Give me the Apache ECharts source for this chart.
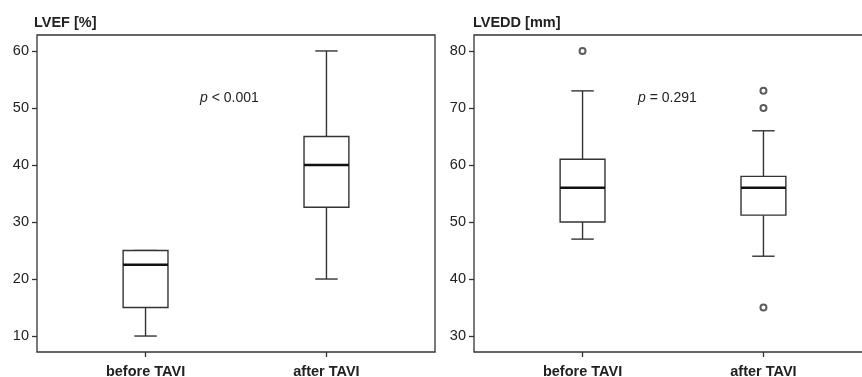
<!DOCTYPE html>
<html>
<head>
<meta charset="utf-8">
<script src="https://cdn.jsdelivr.net/npm/echarts@6/dist/echarts.min.js"></script>
<style>
  html, body { margin: 0; padding: 0; background: #fff; }
  #main { width: 862px; height: 377px; }
</style>
</head>
<body>
<div id="main"></div>
<script>
// groups on the x axis
var categories = ['before TAVI', 'after TAVI'];
var catPos = [1, 2];

// box stats: [low whisker, Q1, median, Q3, high whisker]
var lvefStats = [[10, 15, 22.5, 25, 25], [20, 32.6, 40, 45, 60]];
var lveddStats = [[47, 50, 56, 61, 73], [44, 51.2, 56, 58, 66]];

// outliers: [group position, value]
var lvefOutliers = [];
var lveddOutliers = [[1, 80], [2, 73], [2, 70], [2, 35]];

var lvefTicks = [10, 20, 30, 40, 50, 60];
var lveddTicks = [30, 40, 50, 60, 70, 80];

var ink = '#333';
var txt = '#222';

function withPos(stats) {
    return stats.map(function (s, i) { return [catPos[i]].concat(s); });
}

function renderBox(params, api) {
    var x = api.value(0);
    var lo = api.coord([x, api.value(1)]);
    var q1 = api.coord([x, api.value(2)]);
    var md = api.coord([x, api.value(3)]);
    var q3 = api.coord([x, api.value(4)]);
    var hi = api.coord([x, api.value(5)]);
    var half = api.size([1, 0])[0] * 0.124;
    var cap = half / 2;
    var st = { stroke: ink, lineWidth: 1.4, fill: null };
    return {
        type: 'group',
        children: [
            { type: 'line', shape: { x1: lo[0], y1: lo[1], x2: q1[0], y2: q1[1] }, style: st },
            { type: 'line', shape: { x1: q3[0], y1: q3[1], x2: hi[0], y2: hi[1] }, style: st },
            { type: 'line', shape: { x1: lo[0] - cap, y1: lo[1], x2: lo[0] + cap, y2: lo[1] }, style: st },
            { type: 'line', shape: { x1: hi[0] - cap, y1: hi[1], x2: hi[0] + cap, y2: hi[1] }, style: st },
            { type: 'rect', shape: { x: q1[0] - half, y: q3[1], width: half * 2, height: q1[1] - q3[1] },
              style: { stroke: ink, lineWidth: 1.4, fill: '#fff' } },
            { type: 'line', shape: { x1: md[0] - half, y1: md[1], x2: md[0] + half, y2: md[1] },
              style: { stroke: '#111', lineWidth: 2.6 } }
        ]
    };
}

function xAxisFor(idx) {
    return {
        type: 'value', gridIndex: idx, min: 0.4, max: 2.6,
        splitLine: { show: false },
        axisLine: { show: false },
        axisTick: { show: true, customValues: catPos, length: 5, lineStyle: { color: ink, width: 1.3 } },
        axisLabel: {
            customValues: catPos, margin: 12,
            color: txt, fontFamily: 'Liberation Sans', fontSize: 14.5, fontWeight: 'bold',
            formatter: function (v) { return categories[catPos.indexOf(v)]; }
        }
    };
}

function yAxisFor(idx, min, max, ticks) {
    return {
        type: 'value', gridIndex: idx, min: min, max: max,
        splitLine: { show: false },
        axisLine: { show: false },
        axisTick: { show: true, customValues: ticks, length: 5, lineStyle: { color: ink, width: 1.3 } },
        axisLabel: { customValues: ticks, margin: 8, color: txt, fontFamily: 'Liberation Sans', fontSize: 14.5 }
    };
}

var chart = echarts.init(document.getElementById('main'));

var option = {
    animation: false,
    backgroundColor: '#fff',
    title: [
        { text: 'LVEF [%]', left: 34, top: 15, padding: 0,
          textStyle: { fontFamily: 'Liberation Sans', fontSize: 14.5, fontWeight: 'bold', color: txt } },
        { text: 'LVEDD [mm]', left: 473, top: 15, padding: 0,
          textStyle: { fontFamily: 'Liberation Sans', fontSize: 14.5, fontWeight: 'bold', color: txt } }
    ],
    grid: [
        { left: 37, top: 35, width: 398, height: 317, show: true, borderColor: ink, borderWidth: 1.3,
          outerBoundsMode: 'none' },
        { left: 474, top: 35, width: 398, height: 317, show: true, borderColor: ink, borderWidth: 1.3,
          outerBoundsMode: 'none' }
    ],
    xAxis: [xAxisFor(0), xAxisFor(1)],
    yAxis: [yAxisFor(0, 7.2, 62.8, lvefTicks), yAxisFor(1, 27.2, 82.8, lveddTicks)],
    graphic: [
        { type: 'text', left: 200, top: 91,
          style: { text: '{i|p} < 0.001', fill: txt, font: '14px "Liberation Sans"',
                   rich: { i: { fontStyle: 'italic', fontFamily: 'Liberation Sans', fontSize: 14 } } } },
        { type: 'text', left: 638, top: 91,
          style: { text: '{i|p} = 0.291', fill: txt, font: '14px "Liberation Sans"',
                   rich: { i: { fontStyle: 'italic', fontFamily: 'Liberation Sans', fontSize: 14 } } } }
    ],
    series: [
        { type: 'custom', xAxisIndex: 0, yAxisIndex: 0, renderItem: renderBox, data: withPos(lvefStats) },
        { type: 'custom', xAxisIndex: 1, yAxisIndex: 1, renderItem: renderBox, data: withPos(lveddStats) },
        { type: 'scatter', xAxisIndex: 0, yAxisIndex: 0, data: lvefOutliers,
          symbol: 'emptyCircle', symbolSize: 6, itemStyle: { color: ink, borderColor: ink, borderWidth: 1.5 } },
        { type: 'scatter', xAxisIndex: 1, yAxisIndex: 1, data: lveddOutliers,
          symbol: 'emptyCircle', symbolSize: 6, itemStyle: { color: ink, borderColor: ink, borderWidth: 1.5 } }
    ]
};

chart.setOption(option);
</script>
</body>
</html>
